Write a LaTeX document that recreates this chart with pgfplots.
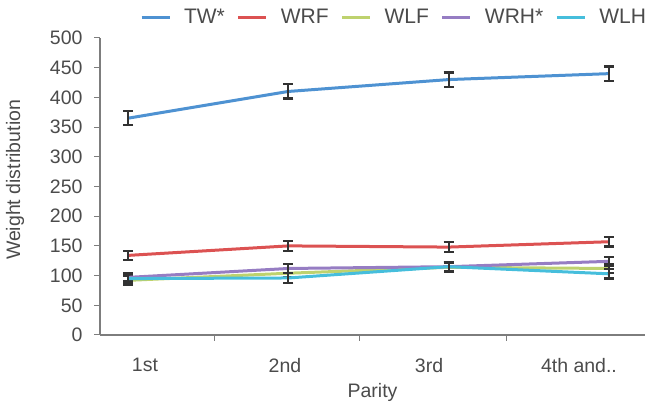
\documentclass[border=0pt]{standalone}
\usepackage{fontspec}
\setmainfont{Liberation Sans}
\usepackage{pgfplots}
\pgfplotsset{compat=1.18}

\definecolor{cTW}{RGB}{78,146,210}
\definecolor{cWRF}{RGB}{220,82,82}
\definecolor{cWLF}{RGB}{190,210,110}
\definecolor{cWRH}{RGB}{150,125,195}
\definecolor{cWLH}{RGB}{70,190,220}
\definecolor{axisgray}{RGB}{125,125,125}
\definecolor{textgray}{RGB}{75,75,75}
\definecolor{errgray}{RGB}{50,50,50}

\pgfplotsset{
  errs/.style={
    error bars/.cd, y dir=both, y explicit,
    error bar style={errgray, line width=2.2pt},
    error mark options={errgray, line width=2.2pt, mark size=5pt, rotate=90},
  },
}

\begin{document}
\begin{tikzpicture}
\useasboundingbox (0pt,0pt) rectangle (645pt,404pt);
\begin{axis}[
  at={(100pt,69pt)}, anchor=south west,
  scale only axis, width=545pt, height=297pt,
  xmin=-0.1747, xmax=3.225, ymin=0, ymax=500,
  ytick={0,50,...,500},
  xtick={0.5365,1.441,2.358}, xticklabels={},
  extra x ticks={0.106,0.979,1.878,2.813},
  extra x tick labels={1st,2nd,3rd,4th and..},
  extra x tick style={major tick length=0pt},
  axis x line=bottom, axis y line=left,
  axis line style={-, axisgray, line width=1.2pt},
  tick style={axisgray, line width=1pt},
  tick align=outside, major tick length=6pt,
  /pgf/number format/assume math mode=true,
  tick label style={font=\fontsize{19.5}{22}\selectfont, text=textgray},
  xticklabel style={yshift=-20pt},
  yticklabel style={xshift=-8pt},
  ylabel={Weight distribution}, xlabel={Parity},
  label style={font=\fontsize{19.5}{22}\selectfont, text=textgray},
  ylabel style={at={(axis description cs:-0.156,0.522)}, anchor=center, rotate=0},
  xlabel style={at={(axis description cs:0.5,-0.192)}, anchor=center},
  legend columns=5,
  legend style={draw=none, fill=none, inner sep=0pt, outer sep=0pt,
    at={(0.0734,1.0707)}, anchor=west,
    font=\fontsize{21}{24}\selectfont, text=textgray,
    nodes={inner sep=0pt, outer sep=0pt},
    /tikz/every even column/.append style={column sep=12pt},
    /tikz/every odd column/.append style={column sep=13pt}},
  legend image code/.code={\draw[line width=3pt] (0pt,0pt) -- (28pt,0pt);},
]
\addplot[cTW, line width=3pt, mark=none, errs] coordinates {
  (0,365) +- (0,12) (1,410) +- (0,12) (2,430) +- (0,12) (3,440) +- (0,12)};
\addplot[cWRF, line width=3pt, mark=none, errs] coordinates {
  (0,134) +- (0,8) (1,150) +- (0,8) (2,148) +- (0,8) (3,157) +- (0,8)};
\addplot[cWLF, line width=3pt, mark=none, errs] coordinates {
  (0,92) +- (0,7) (1,104) +- (0,7) (2,114) +- (0,7) (3,112) +- (0,7)};
\addplot[cWRH, line width=3pt, mark=none, errs] coordinates {
  (0,97) +- (0,7) (1,112) +- (0,7) (2,115) +- (0,7) (3,124) +- (0,7)};
\addplot[cWLH, line width=3pt, mark=none, errs] coordinates {
  (0,95) +- (0,8) (1,96) +- (0,8) (2,115) +- (0,8) (3,103) +- (0,8)};
\legend{TW*,WRF,WLF,WRH*,WLH}
\end{axis}
\end{tikzpicture}
\end{document}
